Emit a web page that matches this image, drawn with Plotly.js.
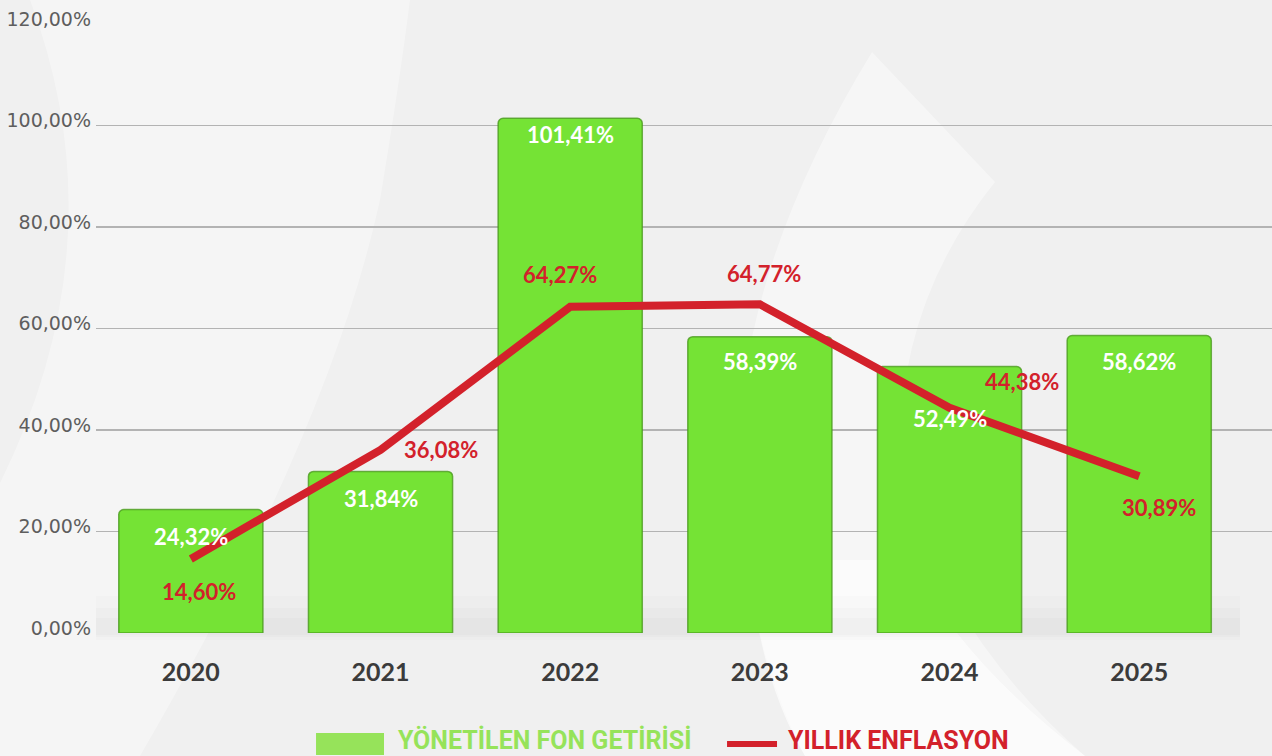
<!DOCTYPE html>
<html>
<head>
<meta charset="utf-8">
<script src="https://cdn.plot.ly/plotly-3.0.1.min.js"></script>
<style>
html,body{margin:0;padding:0;background:#f0f0f0;}
#chart{width:1272px;height:756px;}
</style>
</head>
<body>
<div id="chart"></div>
<script>
// ---- data ----
const years = ['2020', '2021', '2022', '2023', '2024', '2025'];
const fundReturn = [24.32, 31.84, 101.41, 58.39, 52.49, 58.62];   // YÖNETİLEN FON GETİRİSİ
const inflation = [14.60, 36.08, 64.27, 64.77, 44.38, 30.89];     // YILLIK ENFLASYON
const yTicks = [0, 20, 40, 60, 80, 100, 120];
const fundName = 'YÖNETİLEN FON GETİRİSİ';
const inflName = 'YILLIK ENFLASYON';

// ---- label offsets (pixels) ----
const fundLabelShift = [-27, -27, -16, -25, -52, -26];
const inflLabelDx = [8, 60, -10, 4, 72, 20];
const inflLabelDy = [-33, 0, 32, 31, 26, -31];

const fmt = v => v.toFixed(2).replace('.', ',') + '%';

const GREEN = '#75e335';
const RED = '#d3212b';

const traces = [
  {
    type: 'bar', name: fundName, x: years, y: fundReturn,
    width: 0.76,
    marker: { color: GREEN, line: { color: 'rgba(70,150,25,0.75)', width: 1.5 }, cornerradius: 5 },
    hoverinfo: 'x+y', showlegend: false
  },
  {
    type: 'scatter', mode: 'lines', name: inflName, x: years, y: inflation,
    line: { color: RED, width: 8 },
    hoverinfo: 'x+y', showlegend: false
  }
];

const annotations = [];
years.forEach((yr, i) => {
  annotations.push({
    x: i, y: fundReturn[i], xref: 'x', yref: 'y', text: fmt(fundReturn[i]),
    showarrow: false, yshift: fundLabelShift[i], xanchor: 'center', yanchor: 'middle',
    font: { family: 'Lato', size: 22, color: '#ffffff', weight: 700 }
  });
  annotations.push({
    x: i, y: inflation[i], xref: 'x', yref: 'y', text: fmt(inflation[i]),
    showarrow: false, xshift: inflLabelDx[i], yshift: inflLabelDy[i], xanchor: 'center', yanchor: 'middle',
    font: { family: 'Lato', size: 22, color: RED, weight: 700 }
  });
});
// custom legend texts
annotations.push({
  xref: 'paper', yref: 'paper', x: 0.2551, y: -0.1757, xanchor: 'left', yanchor: 'middle',
  text: fundName, showarrow: false,
  font: { family: 'Roboto, sans-serif', size: 25, color: '#96e35a', weight: 700, stretch: 'condensed' }
});
annotations.push({
  xref: 'paper', yref: 'paper', x: 0.5867, y: -0.1757, xanchor: 'left', yanchor: 'middle',
  text: inflName, showarrow: false,
  font: { family: 'Roboto, sans-serif', size: 25, color: RED, weight: 700, stretch: 'condensed' }
});

// pixel -> paper helpers for decorative background
const L = 96, T = 24, W = 1176, H = 609;
const px = v => ((v - L) / W).toFixed(4);
const py = v => ((T + H - v) / H).toFixed(4);
const P = (x, y) => px(x) + ',' + py(y);

const shapes = [
  // lighter crescent on the left
  { type: 'path', xref: 'paper', yref: 'paper', layer: 'below', line: { width: 0 },
    fillcolor: 'rgba(255,255,255,0.35)',
    path: 'M' + P(30, 0) + ' Q' + P(120, 240) + ' ' + P(0, 483) + ' L' + P(0, 756) + ' L' + P(140, 756) +
          ' Q' + P(330, 430) + ' ' + P(380, 200) + ' Q' + P(400, 80) + ' ' + P(410, 0) + ' Z' },
  // white swoosh on the right
  { type: 'path', xref: 'paper', yref: 'paper', layer: 'below', line: { width: 0 },
    fillcolor: 'rgba(255,255,255,0.4)',
    path: 'M' + P(872, 52) + ' Q' + P(720, 300) + ' ' + P(740, 520) + ' Q' + P(755, 660) + ' ' + P(805, 756) +
          ' L' + P(1085, 756) + ' Q' + P(930, 620) + ' ' + P(900, 450) + ' Q' + P(900, 300) + ' ' + P(995, 182) + ' Z' },
  { type: 'path', xref: 'paper', yref: 'paper', layer: 'below', line: { width: 0 },
    fillcolor: 'rgba(255,255,255,0.6)',
    path: 'M' + P(748, 560) + ' Q' + P(760, 680) + ' ' + P(805, 756) + ' L' + P(1085, 756) + ' Q' + P(960, 660) + ' ' + P(910, 560) + ' Z' },
  // soft floor shadow under bars
  { type: 'rect', xref: 'paper', yref: 'paper', layer: 'below', line: { width: 0 },
    x0: px(96), x1: px(1240), y0: py(640), y1: py(596), fillcolor: 'rgba(0,0,0,0.012)' },
  { type: 'rect', xref: 'paper', yref: 'paper', layer: 'below', line: { width: 0 },
    x0: px(96), x1: px(1240), y0: py(637), y1: py(608), fillcolor: 'rgba(0,0,0,0.015)' },
  { type: 'rect', xref: 'paper', yref: 'paper', layer: 'below', line: { width: 0 },
    x0: px(96), x1: px(1240), y0: py(635), y1: py(618), fillcolor: 'rgba(0,0,0,0.015)' },
  // legend symbols
  { type: 'rect', xref: 'paper', yref: 'paper', line: { width: 0 }, fillcolor: '#96e35a',
    x0: px(316), x1: px(384), y0: py(755), y1: py(733) },
  { type: 'line', xref: 'paper', yref: 'paper', line: { color: RED, width: 6 },
    x0: px(727), x1: px(777), y0: py(744), y1: py(744) }
];

const layout = {
  width: 1272, height: 756,
  margin: { l: L, r: 0, t: T, b: 756 - T - H, pad: 0 },
  paper_bgcolor: '#f0f0f0',
  plot_bgcolor: 'rgba(0,0,0,0)',
  showlegend: false,
  xaxis: {
    type: 'category', range: [-0.5, 5.7], showgrid: false, zeroline: false, showline: false,
    ticks: '', tickfont: { family: 'Lato', size: 25, color: '#3b3b3b', weight: 700 },
    ticklabelstandoff: 22, fixedrange: true
  },
  yaxis: {
    range: [0, 120], tickvals: yTicks, ticktext: yTicks.map(fmt),
    showgrid: true, gridcolor: '#b3b3b3', gridwidth: 1.5, zeroline: false, showline: false,
    ticks: '', tickfont: { family: 'DejaVu Sans', size: 19, color: '#5e5e5e' },
    ticklabelshift: -5, ticklabelstandoff: 4, fixedrange: true
  },
  annotations: annotations,
  shapes: shapes
};

Plotly.newPlot('chart', traces, layout, { displayModeBar: false, staticPlot: true });
</script>
</body>
</html>
